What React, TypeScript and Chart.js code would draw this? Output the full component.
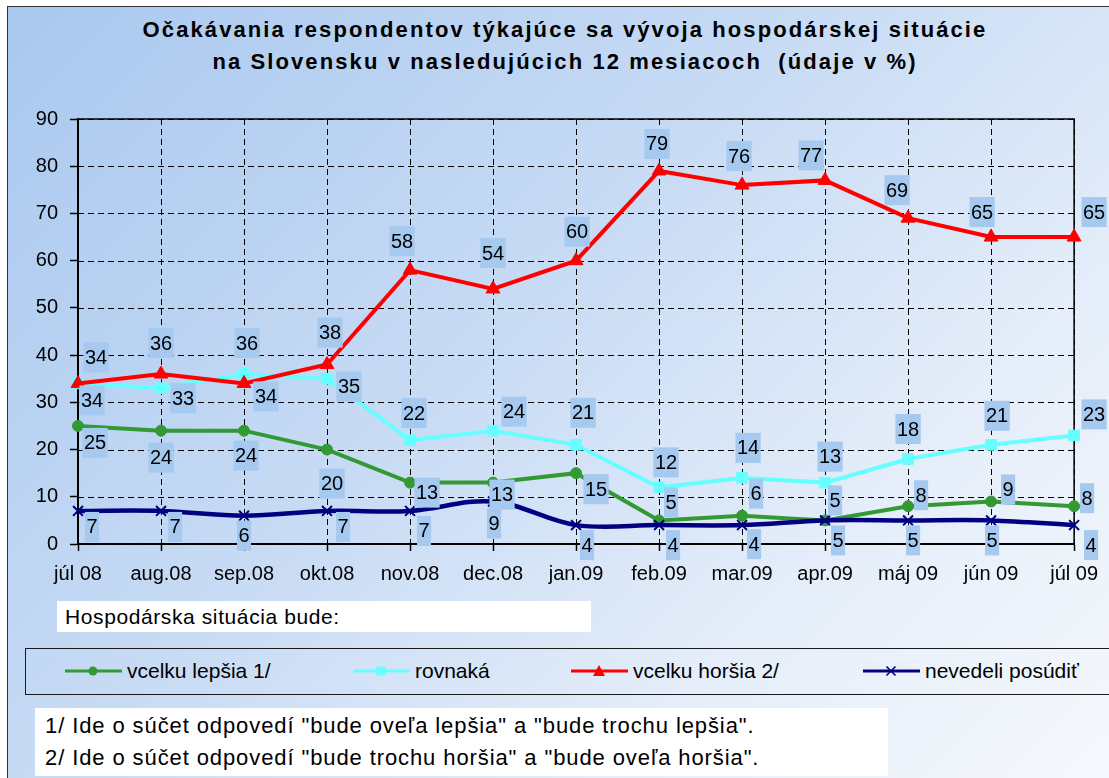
import React, { useEffect, useRef } from 'react';
import { Chart, registerables } from 'chart.js';

Chart.register(...registerables);

// ---- data ----
const months = ['júl 08', 'aug.08', 'sep.08', 'okt.08', 'nov.08', 'dec.08', 'jan.09', 'feb.09', 'mar.09', 'apr.09', 'máj 09', 'jún 09', 'júl 09'];
const better = [25, 24, 24, 20, 13, 13, 15, 5, 6, 5, 8, 9, 8];
const same = [34, 33, 36, 35, 22, 24, 21, 12, 14, 13, 18, 21, 23];
const worse = [34, 36, 34, 38, 58, 54, 60, 79, 76, 77, 69, 65, 65];
const dontKnow = [7, 7, 6, 7, 7, 9, 4, 4, 4, 5, 5, 5, 4];
const seriesNames = ['vcelku lepšia 1/', 'rovnaká', 'vcelku horšia 2/', 'nevedeli posúdiť'];
const yMin = 0;
const yMax = 90;
const yStep = 10;

const titleLines = [
  'Očakávania respondentov týkajúce sa vývoja hospodárskej situácie',
  'na Slovensku v nasledujúcich 12 mesiacoch  (údaje v %)',
];
const legendHeading = 'Hospodárska situácia bude:';
const footnotes = [
  '1/ Ide o súčet odpovedí "bude oveľa lepšia" a "bude trochu lepšia".',
  '2/ Ide o súčet odpovedí "bude trochu horšia" a "bude oveľa horšia".',
];

// ---- styles ----
const FONT = '"Liberation Sans", Arial, sans-serif';
const GREEN = '#339933';
const CYAN = '#66ffff';
const RED = '#ff0000';
const NAVY = '#000080';
const LABEL_BG = 'rgb(166,201,240)';

// data-label offsets (dx, dy) relative to each point, per series
const offBetter = [[17, 17], [0, 27], [2, 25], [5, 34], [17, 10], [9, 12], [20, 16], [12, -18], [14, -22], [10, -20], [13, -11], [17, -12], [13, -8]];
const offSame = [[14, 17], [22, 10], [3, -31], [22, 8], [4, -27], [21, -19], [7, -32], [7, -25], [6, -30], [5, -26], [0, -30], [6, -29], [20, -21]];
const offWorse = [[18, -26], [0, -31], [22, 13], [3, -32], [-8, -29], [0, -36], [1, -29], [-2, -27], [-3, -29], [-14, -25], [-11, -28], [-9, -25], [20, -25]];
const offDontKnow = [[14, 16], [14, 16], [0, 20], [16, 16], [14, 20], [1, 22], [11, 20], [14, 20], [12, 19], [13, 20], [5, 20], [1, 20], [17, 20]];
const labelOffsets = [offBetter, offSame, offWorse, offDontKnow];

const frameAndLabels = {
  id: 'frameAndLabels',
  beforeDatasetsDraw(chart: any) {
    const { ctx, chartArea } = chart;
    const xs = chart.scales.x;
    const ys = chart.scales.y;
    ctx.save();
    // dashed grid
    ctx.strokeStyle = '#000';
    ctx.lineWidth = 1;
    ctx.setLineDash([6, 4]);
    ctx.beginPath();
    ys.ticks.forEach((t: any) => {
      const y = Math.round(ys.getPixelForValue(t.value)) + 0.5;
      ctx.moveTo(chartArea.left, y);
      ctx.lineTo(chartArea.right, y);
    });
    xs.ticks.forEach((_t: any, i: number) => {
      const x = Math.round(xs.getPixelForTick(i)) + 0.5;
      ctx.moveTo(x, chartArea.top);
      ctx.lineTo(x, chartArea.bottom);
    });
    ctx.stroke();
    // solid frame
    ctx.setLineDash([]);
    ctx.lineWidth = 1.5;
    ctx.strokeRect(chartArea.left, chartArea.top, chartArea.right - chartArea.left, chartArea.bottom - chartArea.top);
    ctx.restore();
  },
  afterDatasetsDraw(chart: any) {
    const ctx = chart.ctx;
    ctx.save();
    ctx.font = `20px ${FONT}`;
    ctx.textAlign = 'center';
    ctx.textBaseline = 'middle';
    chart.data.datasets.forEach((ds: any, i: number) => {
      const meta = chart.getDatasetMeta(i);
      const offs = labelOffsets[i];
      meta.data.forEach((pt: any, j: number) => {
        const text = String(ds.data[j]);
        const [dx, dy] = offs[j];
        const cx = pt.x + dx;
        const cy = pt.y + dy;
        const w = ctx.measureText(text).width + 3;
        ctx.fillStyle = LABEL_BG;
        ctx.fillRect(cx - w / 2, cy - 15, w, 30);
        ctx.fillStyle = '#000';
        ctx.fillText(text, cx, cy + 1);
      });
    });
    ctx.restore();
  },
};

function LegendIcon({ kind, color }: { kind: string; color: string }) {
  let marker: any = null;
  if (kind === 'circle') marker = <circle cx={28} cy={8} r={4.5} fill={color} />;
  if (kind === 'rect') marker = <rect x={23.5} y={3.5} width={9} height={9} fill={color} />;
  if (kind === 'triangle') marker = <polygon points="28,2 34,13 22,13" fill={color} />;
  if (kind === 'cross')
    marker = (
      <g stroke={color} strokeWidth={1.6}>
        <line x1={23.5} y1={3.5} x2={32.5} y2={12.5} />
        <line x1={32.5} y1={3.5} x2={23.5} y2={12.5} />
      </g>
    );
  return (
    <svg width={57} height={16} style={{ display: 'block' }}>
      <line x1={0} y1={8} x2={57} y2={8} stroke={color} strokeWidth={3} />
      {marker}
    </svg>
  );
}

export default function App() {
  const canvasRef = useRef<HTMLCanvasElement | null>(null);

  useEffect(() => {
    const canvas = canvasRef.current;
    if (!canvas) return;
    const common = { borderWidth: 4, fill: false, clip: false as any, tension: 0 };
    const chart = new Chart(canvas, {
      type: 'line',
      data: {
        labels: months,
        datasets: [
          { ...common, label: seriesNames[0], data: better, borderColor: GREEN, backgroundColor: GREEN, pointStyle: 'circle', pointRadius: 5.5, pointBorderWidth: 1, order: 4 },
          { ...common, label: seriesNames[1], data: same, borderColor: CYAN, backgroundColor: CYAN, pointStyle: 'rect', pointRadius: 7.5, pointBorderWidth: 1, order: 3 },
          { ...common, label: seriesNames[2], data: worse, borderColor: RED, backgroundColor: RED, pointStyle: 'triangle', pointRadius: 8, pointBorderWidth: 1, order: 2 },
          { ...common, label: seriesNames[3], data: dontKnow, borderColor: NAVY, backgroundColor: NAVY, pointStyle: 'crossRot', pointRadius: 7, pointBorderWidth: 2, borderWidth: 4.5, tension: 0.35, order: 1 },
        ],
      },
      options: {
        responsive: false,
        animation: false,
        events: [],
        layout: { padding: { left: 0, right: 26, top: 119, bottom: 0 } },
        plugins: {
          legend: { display: false },
          title: { display: false },
          tooltip: { enabled: false },
        },
        scales: {
          x: {
            type: 'category',
            offset: false,
            afterFit: (s: any) => { s.height = 56; },
            grid: { drawOnChartArea: false, drawTicks: true, tickLength: 7, tickColor: '#000', tickWidth: 1.5 },
            border: { display: true, color: '#000', width: 2 },
            ticks: { color: '#000', font: { family: FONT, size: 20 }, padding: 11, maxRotation: 0, autoSkip: false },
          },
          y: {
            min: yMin,
            max: yMax,
            afterFit: (s: any) => { s.width = 78; },
            grid: { drawOnChartArea: false, drawTicks: true, tickLength: 8, tickColor: '#000', tickWidth: 1.5 },
            border: { display: true, color: '#000', width: 2 },
            ticks: { stepSize: yStep, color: '#000', font: { family: FONT, size: 20 }, padding: 12 },
          },
        },
      },
      plugins: [frameAndLabels],
    });
    return () => chart.destroy();
  }, []);

  const legendItems = [
    { kind: 'circle', color: GREEN, icon: 65, text: 127 },
    { kind: 'rect', color: CYAN, icon: 353, text: 415 },
    { kind: 'triangle', color: RED, icon: 571, text: 633 },
    { kind: 'cross', color: NAVY, icon: 863, text: 925 },
  ];

  return (
    <div style={{ position: 'absolute', left: 0, top: 0, width: 1109, height: 778, overflow: 'hidden', background: '#fff', fontFamily: FONT }}>
      <div
        style={{
          position: 'absolute', left: 7, top: 6, width: 1140, height: 800,
          border: '1.5px solid #333', boxSizing: 'border-box',
          background: 'linear-gradient(135deg, #a9c8ef 0%, #c6daf4 40%, #e4edf9 70%, #f8fafd 100%)',
        }}
      />
      <div
        style={{
          position: 'absolute', left: 0, top: 14, width: 1130, textAlign: 'center',
          fontWeight: 'bold', fontSize: 22, lineHeight: '32px', letterSpacing: '2.1px', whiteSpace: 'pre', color: '#000',
        }}
      >
        {titleLines.map((t, i) => <div key={i}>{t}</div>)}
      </div>
      <canvas ref={canvasRef} width={1109} height={600} style={{ position: 'absolute', left: 0, top: 0, width: 1109, height: 600 }} />
      <div
        style={{
          position: 'absolute', left: 57, top: 601, width: 534, height: 31, background: '#fff',
          fontSize: 21, lineHeight: '31px', letterSpacing: '0.6px', paddingLeft: 8, boxSizing: 'border-box', color: '#000', whiteSpace: 'nowrap',
        }}
      >
        {legendHeading}
      </div>
      <div style={{ position: 'absolute', left: 25, top: 648, width: 1120, height: 47, border: '1.5px solid #1a1a1a', boxSizing: 'border-box' }} />
      {legendItems.map((it, i) => (
        <React.Fragment key={i}>
          <div style={{ position: 'absolute', left: it.icon, top: 663 }}>
            <LegendIcon kind={it.kind} color={it.color} />
          </div>
          <div style={{ position: 'absolute', left: it.text, top: 655, fontSize: 21, lineHeight: '32px', whiteSpace: 'nowrap', color: '#000' }}>
            {seriesNames[i]}
          </div>
        </React.Fragment>
      ))}
      <div
        style={{
          position: 'absolute', left: 35, top: 708, width: 853, height: 68, background: '#fff',
          fontSize: 22, lineHeight: '32px', letterSpacing: '0.9px', paddingLeft: 10, paddingTop: 2, boxSizing: 'border-box', color: '#000', whiteSpace: 'pre',
        }}
      >
        {footnotes.map((t, i) => <div key={i}>{t}</div>)}
      </div>
    </div>
  );
}
